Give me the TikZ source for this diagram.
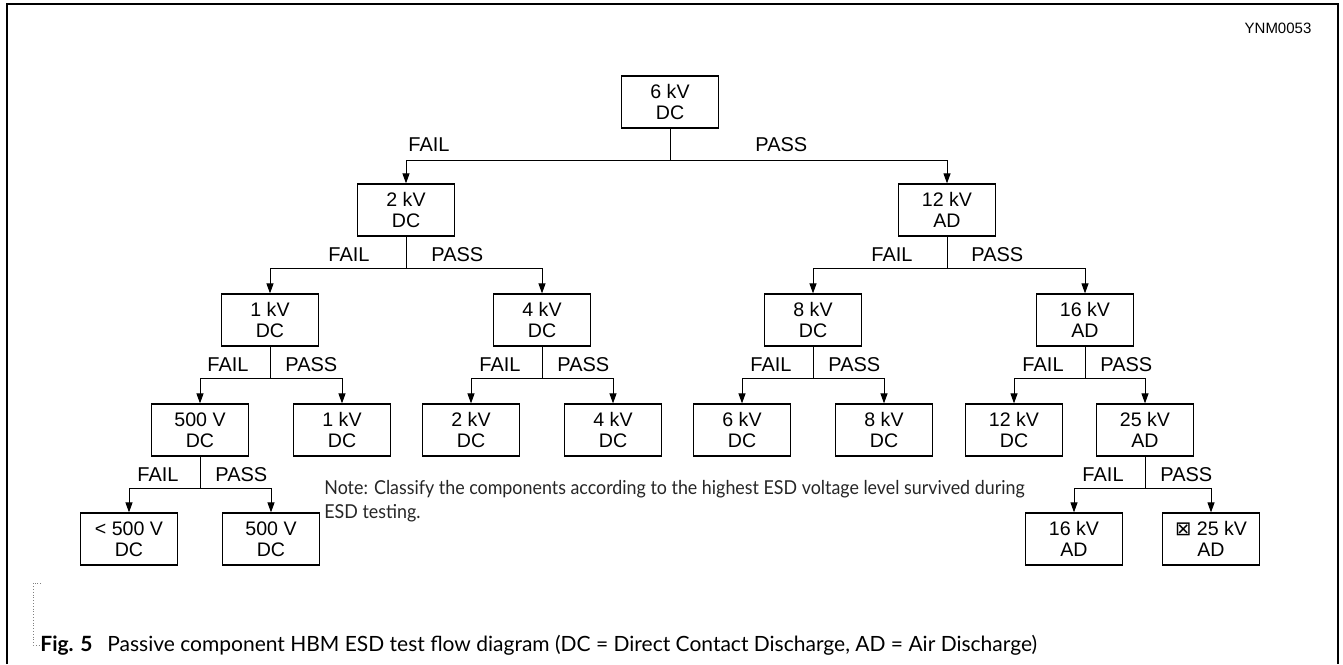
\documentclass[tikz,border=0pt]{standalone}
\usepackage{fontspec}
\setmainfont{Liberation Sans}
\newfontfamily\gillfont{Lato}
\newfontfamily\notefont[FakeStretch=0.93]{Lato}
\newfontfamily\symfont{DejaVu Sans}
\usetikzlibrary{arrows.meta}

\begin{document}
\begin{tikzpicture}[x=0.5pt,y=-0.5pt,>={Triangle[length=5pt,width=3.5pt]},
    box/.style={rectangle,draw,line width=0.6pt,minimum height=26pt,minimum width=48.5pt,align=center,inner sep=1pt,font=\fontsize{9.8}{10.6}\selectfont},
    lbl/.style={inner sep=0pt,font=\fontsize{10}{11}\selectfont},
    link/.style={line width=0.5pt}]
\useasboundingbox (0,0) rectangle (1343,664);
\draw[line width=1pt] (7,664) -- (7,4) -- (1338,4) -- (1338,664);
\node[font=\fontsize{7.5}{8}\selectfont] (fig-id) at (1278,28) {YNM0053};

% tree of test levels
\node[box] (top) at (670,102) {6 kV\\DC};
\node[box] (n2) at (406,210) {2 kV\\DC};
\node[box] (n12) at (947,210) {12 kV\\AD};
\node[box] (n1) at (270,320) {1 kV\\DC};
\node[box] (n4) at (542,320) {4 kV\\DC};
\node[box] (n8) at (813,320) {8 kV\\DC};
\node[box] (n16) at (1085,320) {16 kV\\AD};
\node[box] (n500) at (200,430) {500 V\\DC};
\node[box] (l1) at (342,430) {1 kV\\DC};
\node[box] (l2) at (471,430) {2 kV\\DC};
\node[box] (l4) at (613,430) {4 kV\\DC};
\node[box] (l6) at (742,430) {6 kV\\DC};
\node[box] (l8) at (884,430) {8 kV\\DC};
\node[box] (l12) at (1014,430) {12 kV\\DC};
\node[box] (n25) at (1145,430) {25 kV\\AD};
\node[box] (llt) at (129,539) {< 500 V\\DC};
\node[box] (l500) at (271,539) {500 V\\DC};
\node[box] (l16) at (1074,539) {16 kV\\AD};
\node[box] (l25) at (1211,539) {{\symfont ⊠} 25 kV\\AD};

% FAIL / PASS branches
\foreach \p/\l/\r/\gl/\gr/\h in {top/n2/n12/220/85/9, n2/n1/n4/36/25/7, n12/n8/n16/34/24/7, n1/n500/l1/21/15/7, n4/l2/l4/21/15/7, n8/l6/l8/21/15/7, n16/l12/n25/21/15/7, n500/llt/l500/21/15/7, n25/l16/l25/21/15/7}{
  \draw[link] (\p.south) -- ++(0,32) coordinate (\p-br);
  \draw[link,->] (\p-br) -| (\l.north);
  \draw[link,->] (\p-br) -| (\r.north);
  \node[lbl,anchor=base east] (\p-f) at ([shift={(-\gl,-\h)}]\p-br) {FAIL};
  \node[lbl,anchor=base west] (\p-p) at ([shift={(\gr,-\h)}]\p-br) {PASS};
}

\node[anchor=base west,align=left,inner sep=0pt,text=black!85,font=\notefont\fontsize{9.6}{12}\selectfont] (note) at (324,518) {Note: Classify the components according to the highest ESD voltage level survived during\\ESD testing.};

% caption
\draw[densely dotted,gray,line width=0.4pt] (41,583) -- (33,583) -- (33,645) -- (40,645);
\node[anchor=base west,inner sep=0pt,font=\gillfont\fontsize{10.5}{12}\selectfont] (cap) at (40,651) {\textbf{Fig. 5}\hspace{0.7em}Passive component HBM ESD test flow diagram (DC = Direct Contact Discharge, AD = Air Discharge)};
\end{tikzpicture}
\end{document}
